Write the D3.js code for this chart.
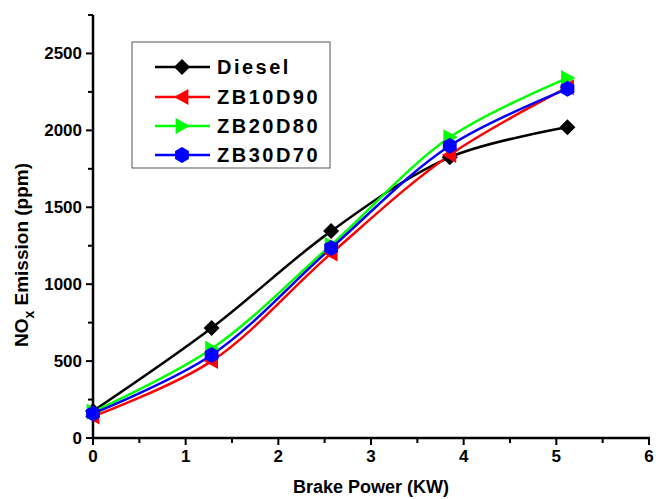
<!DOCTYPE html>
<html><head><meta charset="utf-8">
<script src="https://cdn.jsdelivr.net/npm/d3@7"></script>
<style>body{margin:0;background:#fff}svg{display:block;font-family:Arial,"Liberation Sans",sans-serif}</style>
</head><body><svg id="c" width="656" height="499"></svg>
<script>
const power = [0, 1.28, 2.57, 3.85, 5.12];
const diesel = [175, 715, 1345, 1825, 2020];
const zb10d90 = [140, 500, 1200, 1840, 2280];
const zb20d80 = [170, 580, 1255, 1955, 2340];
const zb30d70 = [160, 540, 1235, 1900, 2270];
const xTicks = [0,1,2,3,4,5,6];
const yTicks = [0,500,1000,1500,2000,2500];
const seriesNames = ["Diesel","ZB10D90","ZB20D80","ZB30D70"];
const seriesColors = ["#000000","#ff0000","#00ff00","#0000ff"];
const seriesShapes = ["diamond","left","right","hex"];
const seriesValues = [diesel, zb10d90, zb20d80, zb30d70];

const svg = d3.select("#c");
const x = d3.scaleLinear().domain([0,6]).range([93,649]);
const y = d3.scaleLinear().domain([0,2750]).range([438,15]);

// axes
const xa = svg.append("g").attr("transform","translate(0,438)");
xa.append("line").attr("x1",x(0)).attr("x2",x(6)+1).attr("stroke","#000").attr("stroke-width",2.5);
d3.range(0,6.01,0.5).forEach(v=>{
  const major = Math.abs(v-Math.round(v))<1e-6;
  xa.append("line").attr("x1",x(v)).attr("x2",x(v)).attr("y1",0).attr("y2",major?7:5).attr("stroke","#000").attr("stroke-width",2);
});
xa.selectAll("text.t").data(xTicks).join("text").attr("x",d=>x(d)).attr("y",24)
  .attr("text-anchor","middle").attr("font-size",17).attr("font-weight","bold").text(d=>d);

const ya = svg.append("g").attr("transform","translate(93,0)");
ya.append("line").attr("y1",y(0)+1).attr("y2",y(2750)).attr("stroke","#000").attr("stroke-width",2.5);
d3.range(0,2751,250).forEach(v=>{
  const major = v%500===0;
  ya.append("line").attr("x1",0).attr("x2",major?-7:-5).attr("y1",y(v)).attr("y2",y(v)).attr("stroke","#000").attr("stroke-width",2);
});
ya.selectAll("text.t").data(yTicks).join("text").attr("x",-11).attr("y",d=>y(d)+6)
  .attr("text-anchor","end").attr("font-size",17).attr("font-weight","bold").text(d=>d);

svg.append("text").attr("x",371).attr("y",493).attr("text-anchor","middle")
  .attr("font-size",18).attr("font-weight","bold").text("Brake Power (KW)");
const yt = svg.append("text").attr("transform","translate(28,255) rotate(-90)").attr("text-anchor","middle")
  .attr("font-size",19).attr("font-weight","bold");
yt.append("tspan").text("NO");
yt.append("tspan").attr("font-size",14).attr("dy",6).text("x");
yt.append("tspan").attr("dy",-6).text(" Emission (ppm)");

function marker(g, shape, cx, cy, color, s){
  let p;
  if(shape==="diamond") p=[[0,-s],[s,0],[0,s],[-s,0]];
  else if(shape==="left") p=[[-s,0],[s*0.8,-s],[s*0.8,s]];
  else if(shape==="right") p=[[s,0],[-s*0.8,-s],[-s*0.8,s]];
  else p=d3.range(6).map(i=>[s*Math.cos(Math.PI/6+i*Math.PI/3), s*Math.sin(Math.PI/6+i*Math.PI/3)]);
  g.append("polygon").attr("points",p.map(q=>[cx+q[0],cy+q[1]].join(",")).join(" ")).attr("fill",color);
}

const line = d3.line().x(d=>x(d[0])).y(d=>y(d[1])).curve(d3.curveCatmullRom.alpha(0.5));
const plot = svg.append("g");
seriesValues.forEach((vals,i)=>{
  const pts = power.map((p,j)=>[p,vals[j]]);
  plot.append("path").attr("d",line(pts)).attr("fill","none").attr("stroke",seriesColors[i]).attr("stroke-width",2.5);
});
seriesValues.forEach((vals,i)=>{
  power.forEach((p,j)=>marker(plot, seriesShapes[i], x(p), y(vals[j]), seriesColors[i], 8));
});

// legend
const lg = svg.append("g");
lg.append("rect").attr("x",132).attr("y",42).attr("width",198).attr("height",126).attr("fill","#fff").attr("stroke","#555").attr("stroke-width",1);
const rowsY = [67,97,126,155];
seriesNames.forEach((n,i)=>{
  lg.append("line").attr("x1",155).attr("x2",210).attr("y1",rowsY[i]).attr("y2",rowsY[i]).attr("stroke",seriesColors[i]).attr("stroke-width",2.5);
  marker(lg, seriesShapes[i], 182, rowsY[i], seriesColors[i], 8);
  lg.append("text").attr("x",217).attr("y",rowsY[i]+7).attr("font-size",20).attr("font-weight","bold")
    .attr("letter-spacing",2.5).text(n);
});
</script></body></html>
